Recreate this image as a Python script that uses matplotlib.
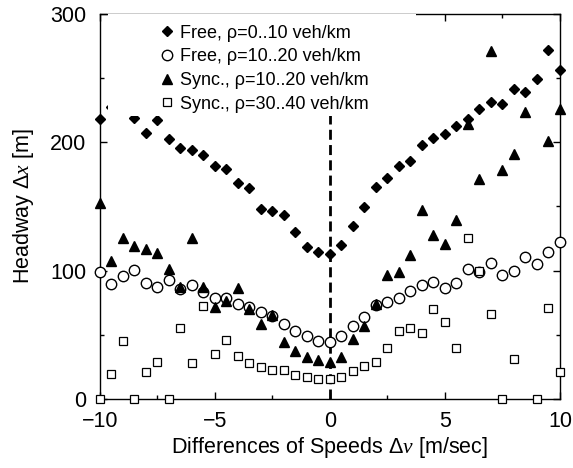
import numpy as np
import matplotlib
matplotlib.use("Agg")
import matplotlib.pyplot as plt
from matplotlib.patches import Rectangle
from matplotlib.ticker import MultipleLocator

plt.rcParams['font.family'] = ['Liberation Sans', 'DejaVu Sans']
plt.rcParams['mathtext.fontset'] = 'custom'
plt.rcParams['mathtext.rm'] = 'Liberation Sans'
plt.rcParams['mathtext.it'] = 'Liberation Serif:italic'

nan = np.nan
dv = np.arange(-10, 10.01, 0.5)

free_0_10 = [218, 227, nan, 219, 207, 217.5, 202, 195, 194, 190, 181, 179, 168, 164,
             148, 146, 143, 130, 118, 114.5, 113, 120, 135, 149.5, 165, 172, 181, 185,
             198, 203.5, 206, 212.5, 218, 226, 231, 229.5, 241, 239, 249, 272, 256]
free_10_20 = [99, 89.4, 95.6, 100.3, 90.4, 86.9, 93, 85.3, 88.4, 83.4, 78.3, 78.8, 73.9,
              71.3, 67.4, 64.5, 58.3, 53.1, 49.2, 45.2, 44.1, 49, 56.8, 64, 73.1, 75.7,
              78.3, 84, 88.6, 91.2, 86.1, 90, 100.9, 99, 105.5, 96.4, 99.8, 110.2, 104.7,
              114.5, 122.3]
sync_10_20 = [152.6, 107.3, 125.4, 119, 116.4, 113.8, 100.9, 86.9, 125.4, 86.9, 71.3,
              76.5, 86.1, 69.8, 58.3, 65.3, 44.1, 37.6, 32.4, 30.3, 29, 32.9, 46.7, 56.8,
              73.9, 96.4, 99, 112, 147, 127.5, 120.3, 139.7, 213.8, 171.6, 270.8, 178,
              190.5, 223.4, nan, 200.9, 226]
sync_30_40 = [0, 19.2, 45.1, 0, 20.7, 28.8, 0, 55, 28, 72.6, 35, 45.9, 33.4, 27.8, 24.7,
              22.6, 22.6, 18.7, 17, 15.4, 15.6, 17, 22.1, 25.9, 28.5, 39.9, 53.1, 55, 51.6,
              69.8, 59.7, 39.4, 125.4, 99.5, 66.1, 0, 30.9, nan, 0, 71, 20.8]

labels = ["Free, ρ=0..10 veh/km", "Free, ρ=10..20 veh/km",
          "Sync., ρ=10..20 veh/km", "Sync., ρ=30..40 veh/km"]

fig = plt.figure(figsize=(5.73, 4.68), dpi=100)
ax = fig.add_axes([0.1745, 0.1474, 0.8027, 0.8236])

ax.axvline(0, color='black', lw=2, dashes=(3.6, 1.9), zorder=1)

h1, = ax.plot(dv, free_0_10, 'D', color='black', ms=5.6, ls='none', clip_on=False, zorder=3)
h2, = ax.plot(dv, free_10_20, 'o', mfc='white', mec='black', mew=1.0, ms=7.5, ls='none', clip_on=False, zorder=3)
h3, = ax.plot(dv, sync_10_20, '^', color='black', ms=7.5, ls='none', clip_on=False, zorder=3)
h4, = ax.plot(dv, sync_30_40, 's', mfc='white', mec='black', mew=0.9, ms=5.6, ls='none', clip_on=False, zorder=3)

# white legend backdrop
ax.add_patch(Rectangle((0.017, 0.733), 0.67, 0.267, transform=ax.transAxes,
                       facecolor='white', edgecolor='none', zorder=4))

leg = ax.legend([h1, h2, h3, h4], labels, loc='upper left', bbox_to_anchor=(0.118, 0.985),
                frameon=False, fontsize=13, handlelength=0.8, handletextpad=0.3,
                labelspacing=0.37, borderaxespad=0.0, borderpad=0.3)
leg.set_zorder(5)

ax.set_xlim(-10, 10)
ax.set_ylim(0, 300)
ax.xaxis.set_major_locator(MultipleLocator(5))
ax.xaxis.set_minor_locator(MultipleLocator(2.5))
ax.yaxis.set_major_locator(MultipleLocator(100))
ax.yaxis.set_minor_locator(MultipleLocator(50))
ax.tick_params(which='both', direction='in', top=True, right=True, width=1)
ax.tick_params(which='major', length=5, labelsize=15.5)
ax.tick_params(axis='x', which='major', pad=8.5)
ax.tick_params(axis='y', which='major', pad=10)
ax.tick_params(which='minor', length=3)
for s in ax.spines.values():
    s.set_linewidth(1)

ax.set_xlabel(r'Differences of Speeds $\Delta v$ [m/sec]', fontsize=15.5, labelpad=2)
ax.set_ylabel(r'Headway $\Delta x$ [m]', fontsize=15.5, labelpad=10)

fig.savefig('out.png', dpi=100)
